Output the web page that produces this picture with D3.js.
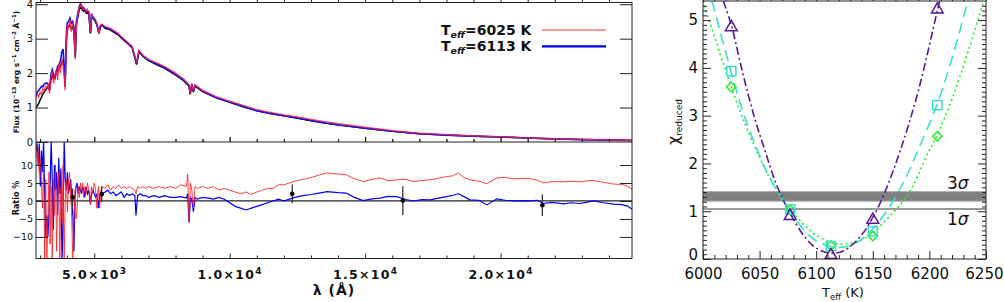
<!DOCTYPE html>
<html>
<head>
<meta charset="utf-8">
<title>SED fit and reduced chi-square</title>
<script src="https://d3js.org/d3.v7.min.js" charset="utf-8"></script>
<style>
  body { margin: 0; background: #fff; }
  svg text { font-family: "DejaVu Sans", sans-serif; fill: #111; }
</style>
</head>
<body>
<script>
// ---- spectrum (top left panel), flux in 1e-13 erg/s/cm2/A
var fluxWave = [2850,2900,2950,3000,3050,3100,3150,3200,3250,3300,
                3350,3400,3450,3500,3550,3600,3650,3700,3750,3800,
                3850,3900,3925,3950,3975,4000,4050,4100,4150,4200,
                4250,4300,4340,4400,4450,4500,4550,4600,4650,4700,
                4750,4800,4860,4900,4950,5000,5050,5100,5170,5230,
                5300,5400,5500,5600,5700,5800,5900,6000,6200,6400,
                6563,6650,6800,7000,7300,7600,8000,8300,8500,8540,
                8600,8662,8720,9000,9500,10000,10500,11000,11500,12000,
                12500,13000,13500,14000,15000,16000,17000,18000,19000,20000,
                21000,22000,23000,24000,24850];
var fluxObs  = [1.00,1.05,1.12,1.22,1.30,1.38,1.45,1.50,1.55,1.60,
                1.50,1.80,1.95,1.85,1.90,2.00,2.05,2.15,2.20,2.30,
                2.35,2.10,1.60,2.30,2.90,3.30,3.35,3.40,3.30,3.35,
                3.20,2.45,3.40,3.65,3.85,3.95,3.85,3.80,3.85,3.75,
                3.78,3.70,3.15,3.65,3.60,3.55,3.48,3.40,3.15,3.35,
                3.38,3.30,3.28,3.25,3.20,3.15,3.10,3.02,2.88,2.74,
                2.25,2.62,2.48,2.36,2.25,2.14,1.95,1.78,1.62,1.38,
                1.66,1.45,1.62,1.46,1.28,1.15,1.02,0.91,0.83,0.76,
                0.69,0.62,0.55,0.49,0.40,0.31,0.24,0.20,0.17,0.145,
                0.115,0.09,0.07,0.055,0.045];
var fluxRed  = [1.28,1.40,1.30,1.45,1.38,1.55,1.50,1.62,1.58,1.70,
                1.40,1.85,2.05,1.70,1.95,2.10,1.80,2.30,2.00,2.45,
                2.20,1.80,1.50,2.40,3.10,3.40,3.30,3.55,3.20,3.45,
                3.30,2.40,3.35,3.70,3.90,4.00,3.90,3.85,3.88,3.80,
                3.85,3.75,3.20,3.70,3.65,3.60,3.55,3.45,3.15,3.40,
                3.42,3.35,3.33,3.30,3.25,3.20,3.14,3.06,2.92,2.78,
                2.30,2.66,2.52,2.40,2.30,2.19,2.00,1.83,1.66,1.40,
                1.70,1.48,1.66,1.50,1.32,1.19,1.06,0.94,0.86,0.79,
                0.73,0.66,0.59,0.53,0.43,0.33,0.26,0.215,0.18,0.155,
                0.122,0.095,0.074,0.058,0.047];
var fluxBlue = [1.35,1.45,1.50,1.55,1.62,1.60,1.68,1.70,1.72,1.66,
                1.55,1.95,2.10,1.95,1.85,2.05,2.20,2.25,2.35,2.60,
                2.70,2.00,1.70,2.60,3.20,3.45,3.50,3.60,3.45,3.50,
                3.35,2.55,3.50,3.75,3.95,4.02,3.92,3.90,3.80,3.82,
                3.80,3.78,3.18,3.72,3.62,3.58,3.50,3.42,3.18,3.38,
                3.40,3.33,3.30,3.27,3.22,3.18,3.12,3.04,2.90,2.75,
                2.28,2.64,2.50,2.38,2.27,2.16,1.97,1.80,1.64,1.40,
                1.68,1.47,1.64,1.48,1.29,1.16,1.03,0.91,0.83,0.76,
                0.70,0.63,0.56,0.50,0.40,0.31,0.24,0.20,0.17,0.145,
                0.115,0.09,0.07,0.054,0.044];

// ---- ratio panel, in %
var ratioWave = [2850,2890,2930,2970,3010,3050,3090,3130,3170,3210,
                 3250,3290,3330,3370,3410,3450,3490,3530,3570,3610,
                 3650,3690,3730,3770,3810,3850,3890,3930,3970,4010,
                 4050,4090,4130,4170,4210,4250,4290,4330,4370,4410,
                 4450,4490,4530,4570,4610,4650,4700,4750,4800,4860,
                 4900,4950,5000,5050,5100,5150,5200,5250,5300,5400,
                 5500,5600,5700,5800,5900,6000,6100,6200,6300,6400,
                 6500,6540,6600,6700,6800,6900,7000,7200,7400,7600,
                 7800,8000,8200,8400,8450,8500,8550,8600,8660,8720,
                 8800,9000,9200,9400,9600,9800,10000,10200,10400,10600,
                 10800,11000,11200,11400,11600,11800,12000,12200,12400,12700,
                 13000,13300,13600,14000,14300,14600,14930,15250,15550,15850,
                 16165,16500,16780,17100,17394,17700,18010,18250,18440,18650,
                 18870,19200,19490,19860,20170,20470,20780,21085,21350,21580,
                 21900,22320,22600,22930,23200,23420,23800,24160,24500,24700,
                 24850];
var ratioRed  = [16,12,14,8,12,5,-2,10,-16,6,
                 -17,-5,8,-12,4,-16,6,-4,10,-14,
                 2,8,-17,4,-6,10,-17,0,6,-3,
                 5,8,2,-5,-17,-5,3,-5,-2,4,
                 1,5,3,5,1,4,2,5,3,-1,
                 4,2,5,3,-2,4,-2,3,4,3.5,
                 4.5,3,4,3.5,4.5,3.5,4,3.5,4,3.5,
                 3,2,4,3.5,4,3.5,4,3.5,4,3.5,
                 4,3.5,4.5,4,7.5,-6,5,3,-2,4,
                 3.5,4,3.5,4,3,3.5,3,2.5,2,2.5,
                 1.8,2.5,3,3.5,3.5,4.5,4.5,5,5.5,6,
                 6.5,7.2,7.8,7.5,7.3,6.2,5.4,6.0,6.4,5.6,
                 5.9,6.0,5.4,5.7,5.9,6.3,6.8,7.0,7.8,6.5,
                 5.9,5.5,4.8,6.4,6.6,6.1,6.3,6.2,5.8,5.0,
                 5.4,5.3,5.5,5.3,5.6,5.7,5.2,4.7,4.6,4.0,
                 3.3];
var ratioBlue = [14,16,10,16,4,14,8,17,2,-10,
                 -4,-10,-3,4,17,6,-8,10,3,8,
                 -4,12,2,9,-17,-6,17,6,3,8,
                 2,4,6,0,-4,-14,1,4,5,2,
                 4,3,2,4,3,1,4,2,3,-1,
                 2,3,2,1,2,-2,1,2.5,2,2.5,
                 3,2,2.5,1.5,2,2.5,1,2,1.5,2,
                 1.5,-4,1.5,2,1.5,1.5,1,1.5,1,1.5,
                 1,1,1.2,0.8,2,-6,1,0.5,-3,1,
                 0.5,1,0.8,0.5,1,0.5,-0.5,-1.5,-2,-2.5,
                 -2,-1.5,-1,-0.5,0,0.5,0,0.5,1,1.5,
                 1.8,2.2,2.6,2.3,2.2,1.0,0.1,0.6,0.8,1.3,
                 1.2,0.4,0,0.4,0.3,0.8,1.2,1.6,2.0,1.2,
                 0.3,0.2,-1.1,0.6,0.2,0,0.1,0,0.2,-0.7,
                 -0.4,-0.8,-0.5,-0.7,-0.3,0,-0.5,-0.9,-1.0,-1.5,
                 -2.3];

// photometry points in the ratio panel
var photWave  = [4200, 5275, 12310, 16390, 21540];
var photRatio = [1.0, 1.9, 2.0, 0.1, -1.2];
var photErr   = [2.5, 2.2, 2.6, 4.0, 3.0];

var legendLabels = ["6025", "6113"];
var waveTicks = [5000, 10000, 15000, 20000];
var waveMantissa = ["5.0", "1.0", "1.5", "2.0"];
var waveExponent = ["3", "4", "4", "4"];

// ---- chi-square panel
var tempPts = [6025, 6077, 6113, 6150, 6207];
var chiTri  = [4.85, 0.90, 0.08, 0.82, 5.22];
var chiSq   = [3.93, 1.04, 0.27, 0.58, 3.22];
var chiDia  = [3.60, 1.03, 0.28, 0.48, 2.57];

var fitTriT   = [6018,6025,6035,6045,6055,6065,6077,6090,6100,6113,6125,6140,6150,6160,6174,6190,6207,6209];
var fitTriChi = [5.4,4.9,3.9,3.0,2.25,1.55,0.95,0.46,0.23,0.12,0.18,0.5,0.87,1.36,2.25,3.5,5.2,5.4];
var fitSqT    = [6008,6025,6035,6048,6060,6077,6090,6100,6113,6120,6135,6150,6165,6180,6190,6207,6220,6234];
var fitSqChi  = [5.4,3.9,3.1,2.28,1.65,1.0,0.58,0.38,0.26,0.24,0.33,0.63,1.1,1.75,2.28,3.25,4.2,5.4];
var fitDiaT   = [6000,6015,6025,6035,6047,6060,6077,6090,6100,6113,6124,6140,6150,6165,6181,6200,6207,6220,6235,6248];
var fitDiaChi = [5.4,4.3,3.6,2.95,2.28,1.65,1.05,0.7,0.5,0.35,0.31,0.4,0.55,0.9,1.35,2.28,2.6,3.35,4.4,5.4];

var sigma3Band = [1.21, 1.41];
var sigma1Line = 1.045;

var width = 1004, height = 302;
var svg = d3.select("body").append("svg")
    .attr("width", width)
    .attr("height", height);
svg.append("rect").attr("width", width).attr("height", height).attr("fill", "#fff");

var x = d3.scaleLinear().domain([2850, 24850]).range([36, 632]);
var yF = d3.scaleLinear().domain([0, 4.05]).range([142, 2.5]);
var yR = d3.scaleLinear().domain([-16, 16.4]).range([258.5, 142]);

var xT = d3.scaleLinear().domain([6000, 6250]).range([703, 986]);
var yC = d3.scaleLinear().domain([0, 5.4]).range([259, 1]);

function zip(a, b) { return a.map(function(v, i) { return [v, b[i]]; }); }

// inward ticks, IDL style
function ticks(g, axisFn, scale, values, size, fmt, pad) {
  var ax = axisFn(scale).tickValues(values).tickSizeInner(-size).tickSizeOuter(0)
    .tickPadding(pad || 3).tickFormat(fmt || function() { return ""; });
  g.call(ax);
  g.select(".domain").remove();
  g.selectAll(".tick line").attr("stroke", "#222");
  return g;
}

var defs = svg.append("defs");
defs.append("clipPath").attr("id", "clipF").append("rect")
  .attr("x", 36).attr("y", 2.5).attr("width", 596).attr("height", 139.5);
defs.append("clipPath").attr("id", "clipR").append("rect")
  .attr("x", 36).attr("y", 142).attr("width", 596).attr("height", 116.5);
defs.append("clipPath").attr("id", "clipC").append("rect")
  .attr("x", 703).attr("y", 1).attr("width", 283).attr("height", 258);

// ---------------- top: flux ----------------
var fline = d3.line().x(function(d) { return x(d[0]); }).y(function(d) { return yF(d[1]); });
var gF = svg.append("g").attr("clip-path", "url(#clipF)");
gF.append("path").attr("d", fline(zip(fluxWave, fluxObs)))
  .attr("fill", "none").attr("stroke", "#000").attr("stroke-width", 1.5);
gF.append("path").attr("d", fline(zip(fluxWave, fluxBlue)))
  .attr("fill", "none").attr("stroke", "#1010ff").attr("stroke-width", 1.6);
gF.append("path").attr("d", fline(zip(fluxWave, fluxRed)))
  .attr("fill", "none").attr("stroke", "#ff2040").attr("stroke-width", 1.3).attr("stroke-opacity", 0.85);

// ---------------- ratio ----------------
var rline = d3.line().x(function(d) { return x(d[0]); }).y(function(d) { return yR(d[1]); });
var gR = svg.append("g").attr("clip-path", "url(#clipR)");
gR.append("line").attr("x1", x(2850)).attr("x2", x(24850))
  .attr("y1", yR(0)).attr("y2", yR(0)).attr("stroke", "#222").attr("stroke-width", 1.2);
gR.append("path").attr("d", rline(zip(ratioWave, ratioBlue)))
  .attr("fill", "none").attr("stroke", "#0000ff").attr("stroke-width", 1.2);
gR.append("path").attr("d", rline(zip(ratioWave, ratioRed)))
  .attr("fill", "none").attr("stroke", "#ff2020").attr("stroke-width", 1).attr("stroke-opacity", 0.85);

var phot = gR.selectAll(".phot").data(photWave.map(function(w, i) {
  return { w: w, r: photRatio[i], e: photErr[i] };
})).enter().append("g");
phot.append("line")
  .attr("x1", function(d) { return x(d.w); }).attr("x2", function(d) { return x(d.w); })
  .attr("y1", function(d) { return yR(d.r - d.e); }).attr("y2", function(d) { return yR(d.r + d.e); })
  .attr("stroke", "#333").attr("stroke-width", 1.3);
phot.append("circle")
  .attr("cx", function(d) { return x(d.w); }).attr("cy", function(d) { return yR(d.r); })
  .attr("r", 2.3).attr("fill", "#000");

// left panel frames and ticks
var majW = waveTicks, minW = d3.range(3000, 25000, 1000).filter(function(v) { return v % 5000; });
ticks(svg.append("g").attr("transform", "translate(0,2.5)"), d3.axisTop, x, minW, -3);
ticks(svg.append("g").attr("transform", "translate(0,2.5)"), d3.axisTop, x, majW, -5);
ticks(svg.append("g").attr("transform", "translate(0,142)"), d3.axisBottom, x, minW, 3);
ticks(svg.append("g").attr("transform", "translate(0,142)"), d3.axisBottom, x, majW, 5);
ticks(svg.append("g").attr("transform", "translate(0,142)"), d3.axisTop, x, minW, -3);
ticks(svg.append("g").attr("transform", "translate(0,142)"), d3.axisTop, x, majW, -5);
ticks(svg.append("g").attr("transform", "translate(0,258.5)"), d3.axisBottom, x, minW, 3);
var xl = ticks(svg.append("g").attr("transform", "translate(0,258.5)"), d3.axisBottom, x, majW, 5,
  function(d, i) { return waveMantissa[i]; }, 12);
xl.selectAll("text").attr("font-size", 12.5).attr("font-weight", "bold").attr("letter-spacing", 1.3)
  .each(function(d, i) {
    var t = d3.select(this).text(null);
    t.append("tspan").text(waveMantissa[i] + "\u00d710");
    t.append("tspan").attr("dy", -5).attr("font-size", 9).text(waveExponent[i]);
  });

var fl = ticks(svg.append("g").attr("transform", "translate(36,0)"), d3.axisLeft, yF, [0,1,2,3,4], 12,
  d3.format("d"), 3);
fl.selectAll("text").attr("font-size", 10);
ticks(svg.append("g").attr("transform", "translate(632,0)"), d3.axisRight, yF, [1,2,3,4], 12);
var rl = ticks(svg.append("g").attr("transform", "translate(36,0)"), d3.axisLeft, yR, [-10,-5,0,5,10], 12,
  function(d) { return d < 0 ? "\u2212" + (-d) : d; }, 3);
rl.selectAll("text").attr("font-size", 9.5);
ticks(svg.append("g").attr("transform", "translate(632,0)"), d3.axisRight, yR, [-10,-5,0,5,10], 12);

svg.append("rect").attr("x", 36).attr("y", 2.5).attr("width", 596).attr("height", 256)
  .attr("fill", "none").attr("stroke", "#222");
svg.append("line").attr("x1", 36).attr("x2", 632).attr("y1", 142).attr("y2", 142)
  .attr("stroke", "#222");

// axis titles
var ft = svg.append("text").attr("transform", "translate(19,72) rotate(-90)")
  .attr("text-anchor", "middle").attr("font-size", 7.5).attr("font-weight", "bold");
ft.append("tspan").text("Flux (10");
ft.append("tspan").attr("dy", -3).attr("font-size", 5.5).text("\u221213");
ft.append("tspan").attr("dy", 3).text(" erg s");
ft.append("tspan").attr("dy", -3).attr("font-size", 5.5).text("\u22121");
ft.append("tspan").attr("dy", 3).text(" cm");
ft.append("tspan").attr("dy", -3).attr("font-size", 5.5).text("\u22122");
ft.append("tspan").attr("dy", 3).text(" \u00c5");
ft.append("tspan").attr("dy", -3).attr("font-size", 5.5).text("\u22121");
ft.append("tspan").attr("dy", 3).text(")");

svg.append("text").attr("transform", "translate(19,198) rotate(-90)")
  .attr("text-anchor", "middle").attr("font-size", 8).attr("font-weight", "bold").text("Ratio %");

svg.append("text").attr("x", 334).attr("y", 295).attr("text-anchor", "middle")
  .attr("font-size", 14).attr("font-weight", "bold").attr("letter-spacing", 1).text("\u03bb (\u00c5)");

// legend
var legColors = ["#ff3030", "#0000e0"], legWidths = [1.2, 2.2];
legendLabels.forEach(function(lab, i) {
  var yb = 35 + i * 16.3;
  var t = svg.append("text").attr("x", 441).attr("y", yb).attr("font-size", 14).attr("font-weight", "bold");
  t.append("tspan").text("T");
  t.append("tspan").attr("dy", 3).attr("font-size", 9.5).attr("font-style", "italic").text("eff");
  t.append("tspan").attr("dy", -3).text("=" + lab + " K");
  svg.append("line").attr("x1", 542).attr("x2", 606).attr("y1", yb - 5).attr("y2", yb - 5)
    .attr("stroke", legColors[i]).attr("stroke-width", legWidths[i]);
});

// ---------------- right: chi-square ----------------
var gC = svg.append("g").attr("clip-path", "url(#clipC)");
gC.append("rect").attr("x", xT(6000)).attr("width", xT(6250) - xT(6000))
  .attr("y", yC(sigma3Band[1])).attr("height", yC(sigma3Band[0]) - yC(sigma3Band[1]))
  .attr("fill", "#808080").attr("stroke", "#aaa").attr("stroke-width", 1);
gC.append("line").attr("x1", xT(6000)).attr("x2", xT(6250))
  .attr("y1", yC(sigma1Line)).attr("y2", yC(sigma1Line))
  .attr("stroke", "#999").attr("stroke-width", 2);

var cline = d3.line().curve(d3.curveCatmullRom)
  .x(function(d) { return xT(d[0]); }).y(function(d) { return yC(d[1]); });
var fits = [
  { t: fitDiaT, c: fitDiaChi, color: "#22ee22", dash: "2,3" },
  { t: fitSqT, c: fitSqChi, color: "#38e0cc", dash: "11,6" },
  { t: fitTriT, c: fitTriChi, color: "#5a1896", dash: "8,3,2,3" }
];
fits.forEach(function(f) {
  gC.append("path").attr("d", cline(zip(f.t, f.c)))
    .attr("fill", "none").attr("stroke", f.color).attr("stroke-width", 1.6)
    .attr("stroke-dasharray", f.dash);
});

var marks = [
  { c: chiDia, color: "#22ee22", sym: d3.symbolSquare, size: 45, rot: 45 },
  { c: chiSq, color: "#38e0cc", sym: d3.symbolSquare, size: 85, rot: 0 },
  { c: chiTri, color: "#5a1896", sym: d3.symbolTriangle, size: 60, rot: 0 }
];
marks.forEach(function(m) {
  svg.append("g").selectAll("path").data(zip(tempPts, m.c)).enter().append("path")
    .attr("d", d3.symbol().type(m.sym).size(m.size))
    .attr("transform", function(d) {
      return "translate(" + xT(d[0]) + "," + yC(d[1]) + ") rotate(" + m.rot + ")";
    })
    .attr("fill", "none").attr("stroke", m.color).attr("stroke-width", 1.5);
});

// chi panel ticks
var majT = d3.range(6000, 6251, 50), minT = d3.range(6010, 6250, 10).filter(function(v) { return v % 50; });
var majC = [0,1,2,3,4,5], minC = d3.range(1, 54).map(function(v) { return v / 10; }).filter(function(v, i) { return (i + 1) % 10; });
ticks(svg.append("g").attr("transform", "translate(0,259)"), d3.axisBottom, xT, minT, 4);
var xc = ticks(svg.append("g").attr("transform", "translate(0,259)"), d3.axisBottom, xT, majT, 8,
  d3.format("d"), 9);
xc.selectAll("text").attr("font-size", 15).attr("font-family", "Liberation Sans, Arial, sans-serif");
xc.selectAll("text").filter(function(d) { return d === 6250; }).attr("text-anchor", "end").attr("dx", 17);
ticks(svg.append("g").attr("transform", "translate(0,1)"), d3.axisTop, xT, minT, -4);
ticks(svg.append("g").attr("transform", "translate(0,1)"), d3.axisTop, xT, majT, -8);
ticks(svg.append("g").attr("transform", "translate(703,0)"), d3.axisLeft, yC, minC, 4);
var yc = ticks(svg.append("g").attr("transform", "translate(703,0)"), d3.axisLeft, yC, majC, 8,
  d3.format("d"), 5);
yc.selectAll("text").attr("font-size", 15).attr("font-family", "Liberation Sans, Arial, sans-serif");
yc.selectAll("text").filter(function(d) { return d === 0; }).attr("dy", "0em");
ticks(svg.append("g").attr("transform", "translate(986,0)"), d3.axisRight, yC, minC, 4);
ticks(svg.append("g").attr("transform", "translate(986,0)"), d3.axisRight, yC, majC, 8);

svg.append("rect").attr("x", 703).attr("y", 1).attr("width", 283).attr("height", 258)
  .attr("fill", "none").attr("stroke", "#222");

// sigma labels
[["3", 189], ["1", 225]].forEach(function(s) {
  var t = svg.append("text").attr("x", 947).attr("y", s[1]).attr("font-size", 17)
    .attr("font-family", "Liberation Sans, Arial, sans-serif");
  t.append("tspan").text(s[0]);
  t.append("tspan").attr("font-style", "italic").text("\u03c3");
});

// chi panel titles
var xt = svg.append("text").attr("x", 843).attr("y", 297).attr("text-anchor", "middle")
  .attr("font-size", 13).attr("font-family", "Liberation Sans, Arial, sans-serif");
xt.append("tspan").text("T");
xt.append("tspan").attr("dy", 2.5).attr("font-size", 8.5).text("eff");
xt.append("tspan").attr("dy", -2.5).text(" (K)");

var yt = svg.append("text").attr("transform", "translate(679,122) rotate(-90)")
  .attr("text-anchor", "middle").attr("font-family", "Liberation Sans, Arial, sans-serif");
yt.append("tspan").attr("font-size", 16).text("\u03c7");
yt.append("tspan").attr("dy", 3).attr("font-size", 9).text("reduced");
</script>
</body>
</html>
